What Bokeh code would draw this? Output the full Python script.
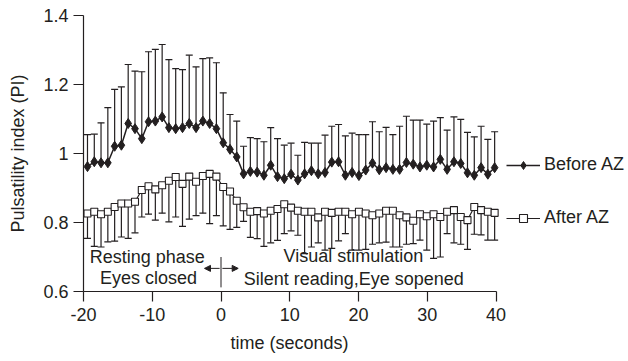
from bokeh.plotting import figure
from bokeh.models import (Whisker, TeeHead, ColumnDataSource, FixedTicker, Label, Title,
                          Arrow, NormalHead, Legend, LegendItem, Range1d)
from bokeh.embed import file_html
from bokeh.resources import INLINE

# ---------------- data ----------------
times = [-19.42, -18.43, -17.45, -16.46, -15.47, -14.49, -13.50, -12.51, -11.52, -10.54,
         -9.55, -8.56, -7.58, -6.59, -5.60, -4.62, -3.63, -2.64, -1.65, -0.67,
         0.32, 1.31, 2.29, 3.28, 4.27, 5.26, 6.24, 7.23, 8.22, 9.20,
         10.19, 11.18, 12.16, 13.15, 14.14, 15.13, 16.11, 17.10, 18.09, 19.07,
         20.06, 21.05, 22.03, 23.02, 24.01, 25.00, 25.98, 26.97, 27.96, 28.94,
         29.93, 30.92, 31.90, 32.89, 33.88, 34.87, 35.85, 36.84, 37.83, 38.81, 39.80]

before_az = [0.962, 0.976, 0.973, 0.973, 1.021, 1.024, 1.087, 1.072, 1.043, 1.092,
             1.094, 1.106, 1.075, 1.072, 1.075, 1.087, 1.075, 1.094, 1.087, 1.072,
             1.031, 1.012, 0.990, 0.941, 0.948, 0.946, 0.937, 0.966, 0.933, 0.927,
             0.940, 0.923, 0.941, 0.950, 0.941, 0.945, 0.975, 0.976, 0.937, 0.945,
             0.936, 0.952, 0.972, 0.953, 0.959, 0.954, 0.954, 0.974, 0.969, 0.961,
             0.966, 0.961, 0.983, 0.954, 0.976, 0.971, 0.944, 0.937, 0.959, 0.940, 0.959]

before_upper = [1.055, 1.056, 1.089, 1.133, 1.186, 1.193, 1.258, 1.239, 1.237, 1.295,
                1.302, 1.316, 1.272, 1.246, 1.243, 1.285, 1.251, 1.275, 1.277, 1.263,
                1.176, 1.113, 1.094, 1.021, 1.046, 1.043, 1.034, 1.075, 1.043, 1.024,
                1.030, 0.995, 1.032, 1.030, 1.030, 1.053, 1.079, 1.084, 1.051, 1.059,
                1.055, 1.055, 1.092, 1.063, 1.076, 1.055, 1.079, 1.108, 1.097, 1.097,
                1.085, 1.094, 1.104, 1.068, 1.106, 1.099, 1.061, 1.048, 1.079, 1.041, 1.063]

after_az = [0.826, 0.831, 0.824, 0.831, 0.845, 0.855, 0.855, 0.860, 0.894, 0.905,
            0.896, 0.908, 0.921, 0.932, 0.912, 0.933, 0.918, 0.935, 0.941, 0.933,
            0.903, 0.890, 0.863, 0.844, 0.831, 0.833, 0.826, 0.834, 0.839, 0.853,
            0.843, 0.834, 0.831, 0.831, 0.815, 0.831, 0.828, 0.831, 0.831, 0.824,
            0.831, 0.826, 0.821, 0.826, 0.834, 0.834, 0.821, 0.815, 0.805, 0.824,
            0.818, 0.824, 0.816, 0.831, 0.836, 0.816, 0.807, 0.845, 0.836, 0.831, 0.828]

after_lower = [0.754, 0.731, 0.729, 0.744, 0.746, 0.758, 0.754, 0.770, 0.816, 0.824,
               0.807, 0.827, 0.802, 0.816, 0.789, 0.810, 0.820, 0.827, 0.797, 0.820,
               0.790, 0.780, 0.786, 0.803, 0.757, 0.753, 0.731, 0.741, 0.748, 0.768,
               0.776, 0.763, 0.710, 0.729, 0.741, 0.720, 0.725, 0.747, 0.768, 0.720,
               0.720, 0.722, 0.737, 0.741, 0.743, 0.729, 0.729, 0.737, 0.739, 0.749,
               0.720, 0.696, 0.700, 0.768, 0.741, 0.737, 0.722, 0.766, 0.764, 0.749, 0.749]

x_ticks = [-20, -10, 0, 10, 20, 30, 40]
x_tick_labels = ["-20", "-10", "0", "10", "20", "30", "40"]
y_ticks = [0.6, 0.8, 1.0, 1.2, 1.4]
y_tick_labels = ["0.6", "0.8", "1", "1.2", "1.4"]
series_names = ["Before AZ", "After AZ"]

# ---------------- style ----------------
FONT = "Liberation Sans"
INK = "#231f20"
FS = "18px"

p = figure(width=628, height=361, output_backend="svg", toolbar_location=None,
           x_range=Range1d(-20, 59.27), y_range=Range1d(0.6, 1.4),
           min_border_left=83, min_border_right=0, min_border_top=15, min_border_bottom=70)
p.outline_line_color = None
p.grid.visible = False
p.background_fill_color = "white"

for ax in (p.xaxis[0], p.yaxis[0]):
    ax.axis_line_color = INK
    ax.axis_line_width = 1.2
    ax.major_tick_line_color = INK
    ax.major_tick_line_width = 1.2
    ax.major_tick_in = 0
    ax.major_tick_out = 10
    ax.minor_tick_line_color = None
    ax.major_label_text_font = FONT
    ax.major_label_text_font_size = FS
    ax.major_label_text_color = INK
    ax.axis_label_text_font = FONT
    ax.axis_label_text_font_size = FS
    ax.axis_label_text_font_style = "normal"
    ax.axis_label_text_color = INK

p.xaxis.ticker = FixedTicker(ticks=x_ticks)
p.xaxis.bounds = (x_ticks[0], x_ticks[-1])
p.xaxis.major_label_overrides = {v: s for v, s in zip(x_ticks, x_tick_labels)}
p.xaxis.major_label_standoff = 6

p.yaxis.ticker = FixedTicker(ticks=y_ticks)
p.yaxis.bounds = (y_ticks[0], y_ticks[-1])
p.yaxis.major_label_overrides = {v: s for v, s in zip(y_ticks, y_tick_labels)}
p.yaxis.axis_label = "Pulsatility index (PI)"
p.yaxis.major_label_standoff = 5
p.yaxis.axis_label_standoff = 12

# x-axis title centred under the -20..40 axis (the frame extends right for the legend)
p.add_layout(Title(text="time (seconds)", align="left", offset=147, standoff=14,
                   text_font=FONT, text_font_size=FS, text_font_style="normal",
                   text_color=INK), "below")

src = ColumnDataSource(dict(t=times, before=before_az, before_hi=before_upper,
                            after=after_az, after_lo=after_lower))

w1 = Whisker(source=src, base="t", lower="before", upper="before_hi", dimension="height",
             line_color=INK, line_width=1.2, level="underlay",
             upper_head=TeeHead(size=7, line_color=INK, line_width=1.2), lower_head=None)
w2 = Whisker(source=src, base="t", lower="after_lo", upper="after", dimension="height",
             line_color=INK, line_width=1.2, level="underlay",
             lower_head=TeeHead(size=7, line_color=INK, line_width=1.2), upper_head=None)
p.add_layout(w1)
p.add_layout(w2)

l1 = p.line("t", "before", source=src, line_color=INK, line_width=1.5)
s1 = p.scatter("t", "before", source=src, marker="diamond", size=10,
               fill_color=INK, line_color=INK)
l2 = p.line("t", "after", source=src, line_color=INK, line_width=1.2)
s2 = p.scatter("t", "after", source=src, marker="square", size=7,
               fill_color="white", line_color=INK, line_width=1.1)

legend = Legend(items=[LegendItem(label=series_names[0], renderers=[l1, s1]),
                       LegendItem(label=series_names[1], renderers=[l2, s2])],
                location=(423, 63), orientation="vertical", glyph_width=34, glyph_height=20,
                label_height=20, spacing=32, label_standoff=4, padding=0, margin=0,
                border_line_color=None, background_fill_alpha=0,
                label_text_font=FONT, label_text_font_size=FS, label_text_color=INK)
p.add_layout(legend)

def lab(x, y, txt):
    p.add_layout(Label(x=x, y=y, text=txt, text_font=FONT, text_font_size=FS,
                       text_color=INK, text_baseline="middle", text_align="left"))

lab(-19.1, 0.701, "Resting phase")
lab(-17.6, 0.639, "Eyes closed")
lab(9.1, 0.704, "Visual stimulation")
lab(3.3, 0.636, "Silent reading,Eye sopened")

p.add_layout(Arrow(x_start=0, y_start=0.612, x_end=0, y_end=0.700, end=None,
                   line_color=INK, line_width=1))
p.add_layout(Arrow(x_start=-0.2, y_start=0.667, x_end=-2.4, y_end=0.667,
                   end=NormalHead(size=6, fill_color=INK, line_color=INK),
                   line_color=INK, line_width=1))
p.add_layout(Arrow(x_start=0.2, y_start=0.667, x_end=2.5, y_end=0.667,
                   end=NormalHead(size=6, fill_color=INK, line_color=INK),
                   line_color=INK, line_width=1))

open("out.html", "w").write(file_html(p, INLINE))
